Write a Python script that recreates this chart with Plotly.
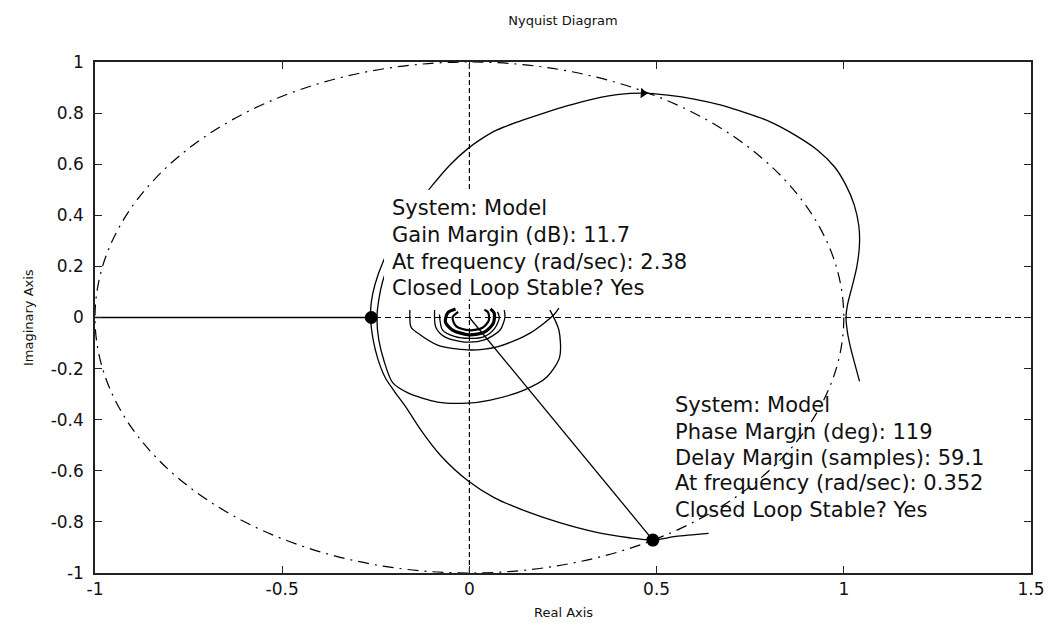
import plotly.graph_objects as go

# ---------------- data ----------------
# main Nyquist branch
main_re = [1.042, 1.031, 1.020, 1.010, 1.006, 1.010, 1.022, 1.035, 1.042, 1.040, 1.028,
           1.005, 0.975, 0.930, 0.870, 0.805, 0.740, 0.670, 0.600, 0.530, 0.464, 0.400,
           0.330, 0.260, 0.199, 0.130, 0.074, 0.030, -0.005, -0.050, -0.098, -0.150,
           -0.195, -0.230, -0.252, -0.262, -0.264, -0.258, -0.245, -0.225, -0.200, -0.170,
           -0.130, -0.077, -0.003, 0.066, 0.154, 0.241, 0.331, 0.427, 0.490, 0.551, 0.639]
main_im = [-0.250, -0.190, -0.130, -0.060, 0.000, 0.050, 0.120, 0.200, 0.290, 0.360, 0.440,
           0.520, 0.590, 0.655, 0.714, 0.765, 0.800, 0.832, 0.855, 0.870, 0.878, 0.873,
           0.855, 0.828, 0.800, 0.766, 0.734, 0.697, 0.660, 0.600, 0.519, 0.420,
           0.320, 0.220, 0.130, 0.060, 0.000, -0.080, -0.160, -0.235, -0.290, -0.350,
           -0.440, -0.540, -0.640, -0.705, -0.760, -0.803, -0.838, -0.862, -0.871, -0.857, -0.845]

# large inner loop
loop_b_re = [0.215, 0.239, 0.241, 0.207, 0.146, 0.056, -0.005, -0.085, -0.164, -0.205,
             -0.228, -0.242, -0.247, -0.242, -0.232, -0.220, -0.190]
loop_b_im = [0.029, -0.049, -0.155, -0.233, -0.284, -0.323, -0.335, -0.331, -0.295, -0.255,
             -0.170, -0.088, 0.000, 0.070, 0.140, 0.190, 0.280]

# medium inner loop
loop_c_re = [-0.159, -0.156, -0.138, -0.085, -0.005, 0.074, 0.162, 0.225, 0.239]
loop_c_im = [0.029, -0.037, -0.061, -0.108, -0.127, -0.115, -0.061, 0.010, 0.037]

# smaller inner loops
loop_d_re = [-0.093, -0.090, -0.066, -0.013, 0.040, 0.082, 0.095, 0.093]
loop_d_im = [0.029, -0.037, -0.076, -0.096, -0.088, -0.049, 0.002, 0.029]
loop_d2_re = [-0.080, -0.072, -0.040, 0.000, 0.040, 0.068, 0.080, 0.075]
loop_d2_im = [0.012, -0.048, -0.074, -0.082, -0.075, -0.042, 0.000, 0.022]

# tight spiral turns near the origin
loop_e_re = [-0.037, -0.058, -0.064, -0.045, 0.000, 0.040, 0.064, 0.066, 0.056]
loop_e_im = [0.033, 0.018, -0.018, -0.049, -0.068, -0.057, -0.022, 0.018, 0.033]
loop_e2_re = [-0.030, -0.045, -0.035, 0.000, 0.035, 0.052, 0.050, 0.040]
loop_e2_im = [0.022, 0.000, -0.035, -0.050, -0.040, -0.010, 0.020, 0.030]

arrow_pt = (0.464, 0.878)
gm_point = (-0.262, 0.0)
pm_point = (0.490, -0.871)
critical = (-1.0, 0.0)
origin = (0.0, 0.0)

x_ticks = [-1, -0.5, 0, 0.5, 1, 1.5]
x_ticktext = ["-1", "-0.5", "0", "0.5", "1", "1.5"]
y_ticks = [-1, -0.8, -0.6, -0.4, -0.2, 0, 0.2, 0.4, 0.6, 0.8, 1]
y_ticktext = ["-1", "-0.8", "-0.6", "-0.4", "-0.2", "0", "0.2", "0.4", "0.6", "0.8", "1"]

gm_lines = ["System: Model", "Gain Margin (dB): 11.7",
            "At frequency (rad/sec): 2.38", "Closed Loop Stable? Yes"]
gm_line_y = [0.429, 0.323, 0.216, 0.115]
gm_text_x = -0.212

pm_lines = ["System: Model", "Phase Margin (deg): 119", "Delay Margin (samples): 59.1",
            "At frequency (rad/sec): 0.352", "Closed Loop Stable? Yes"]
pm_line_y = [-0.342, -0.448, -0.550, -0.648, -0.753]
pm_text_x = 0.543

# ---------------- figure ----------------
fig = go.Figure()
LW = 1.3
BLACK = "black"

def add_line(xs, ys, width=LW, smoothing=0.8):
    fig.add_trace(go.Scatter(x=xs, y=ys, mode="lines",
                             line=dict(color=BLACK, width=width, shape="spline",
                                       smoothing=smoothing),
                             hoverinfo="skip", showlegend=False))

add_line(main_re, main_im)
add_line(loop_b_re, loop_b_im)
add_line(loop_c_re, loop_c_im)
add_line(loop_d_re, loop_d_im)
add_line(loop_d2_re, loop_d2_im)
add_line(loop_e_re, loop_e_im, width=3.2)
add_line(loop_e2_re, loop_e2_im, width=2.2)

# solid segment from -1 to gain-margin crossing, and line from origin to PM point
fig.add_trace(go.Scatter(x=[critical[0], gm_point[0]], y=[critical[1], gm_point[1]],
                         mode="lines", line=dict(color=BLACK, width=LW),
                         hoverinfo="skip", showlegend=False))
fig.add_trace(go.Scatter(x=[origin[0], pm_point[0]], y=[origin[1], pm_point[1]],
                         mode="lines", line=dict(color=BLACK, width=LW),
                         hoverinfo="skip", showlegend=False))

# arrow head on the curve
fig.add_trace(go.Scatter(x=[arrow_pt[0]], y=[arrow_pt[1]], mode="markers",
                         marker=dict(symbol="triangle-right", size=9, color=BLACK, angle=4),
                         hoverinfo="skip", showlegend=False))
# margin markers
fig.add_trace(go.Scatter(x=[gm_point[0], pm_point[0]], y=[gm_point[1], pm_point[1]],
                         mode="markers", marker=dict(symbol="circle", size=13, color=BLACK),
                         hoverinfo="skip", showlegend=False))

shapes = [
    dict(type="line", xref="x", yref="y", x0=-1, x1=1.5, y0=0, y1=0,
         line=dict(color=BLACK, width=1.2, dash="6px,4px"), layer="below"),
    dict(type="line", xref="x", yref="y", x0=0, x1=0, y0=-1, y1=1,
         line=dict(color=BLACK, width=1.2, dash="5px,3px"), layer="below"),
    dict(type="circle", xref="x", yref="y", x0=-1, x1=1, y0=-1, y1=1,
         line=dict(color=BLACK, width=1.2, dash="11px,6px,2px,6px"), layer="below"),
    # white background of the gain-margin data tip
    dict(type="rect", xref="x", yref="y", x0=-0.228, x1=0.58, y0=0.07, y1=0.50,
         fillcolor="white", line=dict(width=0), layer="above"),
]

annotations = []
TIP_FONT = dict(family="DejaVu Sans", size=21, color="#111")
for txt, yy in zip(gm_lines, gm_line_y):
    annotations.append(dict(x=gm_text_x, y=yy, xref="x", yref="y", text=txt, showarrow=False,
                            xanchor="left", yanchor="middle", font=TIP_FONT))
for txt, yy in zip(pm_lines, pm_line_y):
    annotations.append(dict(x=pm_text_x, y=yy, xref="x", yref="y", text=txt, showarrow=False,
                            xanchor="left", yanchor="middle", font=TIP_FONT))

LABEL_FONT = dict(family="DejaVu Sans", size=13, color="#111")
annotations.append(dict(x=0.5, y=-0.078, xref="paper", yref="paper", text="Real Axis",
                        showarrow=False, xanchor="center", yanchor="middle", font=LABEL_FONT))
annotations.append(dict(x=-0.071, y=0.5, xref="paper", yref="paper", text="Imaginary Axis",
                        showarrow=False, xanchor="center", yanchor="middle", textangle=-90,
                        font=LABEL_FONT))

axis_common = dict(showgrid=False, zeroline=False, showline=True, linecolor="#222",
                   linewidth=1.5, mirror="ticks", ticks="inside", ticklen=7, tickwidth=1.3,
                   tickcolor="#222", tickfont=dict(family="DejaVu Sans", size=17, color="#111"))

# the page adds an 8px body margin, so the figure is drawn 8px smaller and offset
fig.update_layout(
    width=1049, height=623,
    margin=dict(l=87, r=16, t=54, b=58),
    paper_bgcolor="white", plot_bgcolor="white",
    title=dict(text="Nyquist Diagram", x=0.5, xref="paper", xanchor="center",
               y=1 - 12 / 623, yref="container", yanchor="middle",
               font=dict(family="DejaVu Sans", size=13, color="#111")),
    xaxis=dict(range=[-1, 1.5], tickvals=x_ticks, ticktext=x_ticktext,
               ticklabelstandoff=0, **axis_common),
    yaxis=dict(range=[-1, 1], tickvals=y_ticks, ticktext=y_ticktext,
               ticklabelstandoff=6, **axis_common),
    shapes=shapes,
    annotations=annotations,
    showlegend=False,
)

fig.write_html("out.html")
